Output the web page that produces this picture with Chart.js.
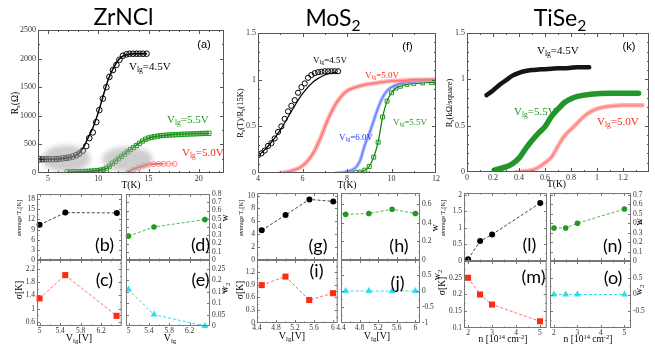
<!DOCTYPE html>
<html><head><meta charset="utf-8">
<script src="https://cdn.jsdelivr.net/npm/chart.js@4.4.1/dist/chart.umd.min.js"></script>
<style>
html,body{margin:0;padding:0;background:#fff;}
body{position:relative;width:655px;height:353px;overflow:hidden;}
canvas{position:absolute;}
.l{position:absolute;line-height:1;white-space:nowrap;}
.s{font-size:0.68em;vertical-align:-0.32em;line-height:0;}
.u{font-size:0.68em;vertical-align:0.45em;line-height:0;}
</style></head><body>
<script>
// ================= DATA =================
// (a) ZrNCl  Rs(T) [Ohm]
const aT45=[4.15,4.45,4.8,5.1,5.45,5.8,6.1,6.45,6.8,7.1,7.45,7.8,8.1,8.45,8.8,9.1,9.45,9.8,10.1,10.45,10.8,11.1,11.45,11.8,12.1,12.45,12.8,13.1,13.45,13.8,14.1,14.45,14.8];
const aR45=[240,240,240,240,240,242,248,255,262,272,288,310,340,390,470,610,710,890,1100,1300,1500,1680,1800,1890,1980,2050,2075,2085,2085,2085,2085,2085,2085];
const aTf45=[4.0,5,6,7,7.5,8,8.5,9,9.5,10,10.5,11,11.5,12,12.5,13,13.5,14,14.8];
const aRf45=[240,240,245,265,290,330,440,620,810,1060,1360,1640,1832,1975,2050,2075,2085,2085,2085];
const aT55=[6.9,7.2,7.5,7.8,8.1,8.4,8.7,9.0,9.3,9.6,9.9,10.2,10.5,10.8,11.1,11.4,11.7,12.0,12.3,12.6,12.9,13.2,13.5,13.8,14.1,14.4,14.7,15.0,15.3,15.6,15.9,16.2,16.5,16.8,17.1,17.4,17.7,18.0,18.3,18.6,18.9,19.2,19.5,19.8,20.1,20.4,20.7,21.0];
const aR55=[20,20,22,22,24,25,27,30,33,37,42,50,62,85,120,170,205,250,290,330,370,410,445,480,520,560,590,612,625,635,645,652,657,661,664,667,670,673,676,678,680,683,685,687,689,691,693,694];
const aTf55=[7,8,9,10,10.5,11,11.5,12,12.5,13,13.5,14,14.5,15,15.5,16,17,18,19,20,21];
const aRf55=[18,22,28,45,60,100,180,250,320,390,450,515,570,610,632,648,664,676,684,690,694];
const aT50=[13.0,13.5,14.0,14.5,15.0,15.5,16.0,16.5,17.0,17.6];
const aR50=[15,60,95,130,148,155,158,160,160,160];
const aTf50=[12.7,13.0,13.3,13.6,14.0,14.4,14.8,15.2,15.6,16.0,16.4];
const aRf50=[0,20,50,75,95,120,140,152,158,160,160];
const blobT=[6.8,12.9], blobR=[250,240], blobHT=[2.4,2.5], blobHR=[235,220];

// (f) MoS2  Rs(T)/Rs(15K)
const fT45=[4.0,4.15,4.3,4.45,4.6,4.75,4.9,5.05,5.2,5.35,5.5,5.65,5.8,5.95,6.1,6.25,6.4,6.55,6.7,6.85,7.0,7.15,7.3,7.45,7.6];
const fR45=[0.19,0.21,0.24,0.29,0.32,0.37,0.44,0.50,0.58,0.66,0.72,0.78,0.86,0.92,0.96,1.02,1.05,1.07,1.08,1.085,1.09,1.09,1.09,1.09,1.09];
const fTf45=[4.0,4.5,5.0,5.5,6.0,6.5,7.0,7.5];
const fRf45=[0.18,0.30,0.46,0.66,0.85,0.98,1.05,1.08];
const fT50=[5.0,5.3,5.6,5.9,6.2,6.5,6.8,7.1,7.4,7.7,8.0,8.4,8.8,9.2,9.6,10.0,10.5,11.0,11.5,12.0];
const fR50=[0.0,0.01,0.03,0.06,0.12,0.22,0.37,0.55,0.70,0.81,0.88,0.92,0.945,0.96,0.975,0.985,0.99,1.0,1.0,1.0];
const fT60=[7.5,7.8,8.1,8.4,8.6,8.8,9.0,9.2,9.4,9.6,9.8,10.0,10.3,10.6,11.0,11.5,12.0];
const fR60=[0.0,0.005,0.02,0.06,0.14,0.30,0.42,0.56,0.70,0.81,0.88,0.92,0.95,0.97,0.98,0.99,1.0];
const fT55=[8.0,8.2,8.4,8.6,8.8,9.0,9.2,9.4,9.6,9.8,10.0,10.2,10.4,10.7,11.0,11.4,11.8,12.0];
const fR55=[0.0,0.0,0.005,0.01,0.03,0.07,0.17,0.33,0.60,0.77,0.86,0.91,0.93,0.95,0.96,0.965,0.97,0.97];

// (k) TiSe2  Rs [kOhm/square]
const kT45=[0.15,0.2,0.25,0.3,0.35,0.4,0.45,0.5,0.55,0.6,0.65,0.7,0.75,0.8,0.85,0.9,0.94];
const kR45=[0.83,0.88,0.94,0.99,1.04,1.07,1.09,1.10,1.105,1.11,1.115,1.12,1.12,1.125,1.13,1.13,1.13];
const kT55=[0.21,0.25,0.3,0.35,0.4,0.45,0.5,0.55,0.6,0.65,0.7,0.75,0.8,0.85,0.9,0.95,1.0,1.1,1.2,1.32];
const kR55=[0.02,0.035,0.055,0.09,0.15,0.25,0.34,0.42,0.49,0.60,0.68,0.75,0.79,0.815,0.83,0.84,0.845,0.85,0.85,0.85];
const kT50=[0.38,0.45,0.5,0.55,0.6,0.65,0.7,0.75,0.8,0.85,0.9,0.95,1.0,1.05,1.1,1.2,1.3,1.35];
const kR50=[0.0,0.01,0.02,0.05,0.10,0.16,0.28,0.39,0.46,0.53,0.60,0.65,0.68,0.70,0.71,0.72,0.72,0.72];

// small panels
const vlgZ=[5,5.5,6.5], tcZ=[10.4,14.0,13.9], wZ=[0.29,0.40,0.49], sigZ=[1.31,2.02,0.78], w2Z=[0.16,0.05,0.0];
const vlgM=[4.5,5,5.5,6], tcM=[4.6,7.0,9.4,9.1], wM=[0.49,0.5,0.545,0.5], sigM=[0.89,1.09,0.54,0.70], w2M=[0,0,0,0];
const nT=[2,2.5,3,5], tcT=[0.05,0.6,0.8,1.75], wT=[0.35,0.35,0.40,0.55], sigT=[0.25,0.20,0.17,0.12], w2T=[0,0,0,0];

// tick values
const aXt=[5,10,15,20], aYt=[0,500,1000,1500,2000,2500];
const fXt=[4,6,8,10,12], fYt=[0,0.5,1,1.5];
const kXt=[0,0.2,0.4,0.6,0.8,1,1.2], kYt=[0,0.5,1,1.5];
const zXt=[5,5.4,5.8,6.2], bYt=[0,3,6,9,12,15,18], cYt=[0.6,1,1.4,1.8,2.2], dYt=[0,0.1,0.2,0.3,0.4,0.5,0.6,0.7,0.8], eYt=[0,0.05,0.1,0.15,0.2,0.25];
const mXt=[4.4,4.8,5.2,5.6,6], gYt=[0,2,4,6,8,10], iYt=[0,0.3,0.6,0.9,1.2], hYt=[0,0.2,0.4,0.6], jYt=[-1,-0.5,0,0.5];
const tXt=[2,3,4,5], lYt=[0,0.5,1,1.5,2], mYt=[0.1,0.15,0.2,0.25], nYt=[0,0.1,0.2,0.3,0.4,0.5,0.6,0.7], oYt=[-0.5,0,0.5];

// ================= HELPERS =================
const SERIF='"Liberation Serif","Times New Roman",serif';
const SANS='Lato,"Open Sans",sans-serif';
const ARIAL='"Liberation Sans",Arial,sans-serif';
const fmt=v=>String(+(+v).toFixed(3));
const P=(xs,ys)=>xs.map((v,i)=>({x:v,y:ys[i]}));

const frame={id:'frame',afterDraw(ch,a,o){
  if(!o||!o.xt) return;
  const {ctx,chartArea:A,scales:{x,y}}=ch;
  ctx.save(); ctx.strokeStyle=o.color||'#555'; ctx.lineWidth=1;
  ctx.strokeRect(A.left+0.5,A.top+0.5,A.right-A.left-1,A.bottom-A.top-1);
  const L=o.len||4;
  const gen=(arr,n,mn,mx)=>{const maj=arr.slice(),mi=[];
    if(arr.length>1&&n>0){const sub=(arr[1]-arr[0])/(n+1);
      for(let v=arr[0]-sub*Math.floor((arr[0]-mn)/sub+1e-9);v<=mx+1e-9;v+=sub){
        if(!arr.some(m=>Math.abs(m-v)<sub*0.01)) mi.push(v);}}
    return {maj,mi};};
  ctx.beginPath();
  const gx=gen(o.xt,o.xm,x.min,x.max), gy=gen(o.yt,o.ym,y.min,y.max);
  const dx=(v,len)=>{const p=Math.round(x.getPixelForValue(v))+0.5; if(p<A.left||p>A.right)return;
    ctx.moveTo(p,A.bottom);ctx.lineTo(p,A.bottom-len);ctx.moveTo(p,A.top);ctx.lineTo(p,A.top+len);};
  const dy=(v,len)=>{const p=Math.round(y.getPixelForValue(v))+0.5; if(p<A.top||p>A.bottom)return;
    ctx.moveTo(A.left,p);ctx.lineTo(A.left+len,p);ctx.moveTo(A.right,p);ctx.lineTo(A.right-len,p);};
  gx.maj.forEach(v=>dx(v,L)); gx.mi.forEach(v=>dx(v,L/2));
  gy.maj.forEach(v=>dy(v,L)); gy.mi.forEach(v=>dy(v,L/2));
  ctx.stroke(); ctx.restore();
}};
const blobs={id:'blobs',afterDatasetsDraw(ch,a,o){
  if(!o||!o.cx) return;
  const {ctx,scales:{x,y}}=ch; ctx.save(); ctx.filter='blur(2.5px)'; ctx.fillStyle='rgba(165,165,165,0.55)';
  o.cx.forEach((cx,i)=>{const px=x.getPixelForValue(cx),py=y.getPixelForValue(o.cy[i]);
    const rx=x.getPixelForValue(cx+o.hx[i])-px, ry=py-y.getPixelForValue(o.cy[i]+o.hy[i]);
    ctx.beginPath(); ctx.ellipse(px,py,rx,ry,0,0,Math.PI*2); ctx.fill();});
  ctx.restore();
}};
Chart.register(frame,blobs);

function panel(o){
  const [x0,y0,x1,y1]=o.box, m=o.m;
  const W=x1-x0+m.l+m.r, H=y1-y0+m.t+m.b;
  const c=document.createElement('canvas');
  c.width=W; c.height=H;
  c.style.left=(x0-m.l)+'px'; c.style.top=(y0-m.t)+'px';
  c.style.width=W+'px'; c.style.height=H+'px';
  document.body.appendChild(c);
  const right=o.yPos==='right';
  const tf={family:SERIF,size:o.fs||8};
  const plugins={legend:{display:false},tooltip:{enabled:false},frame:{xt:o.xt,yt:o.yt,xm:o.xm??1,ym:o.ym??1,color:o.fc||'#555',len:o.tl||4}};
  if(o.blobs) plugins.blobs=o.blobs;
  new Chart(c,{type:'line',data:{datasets:o.ds},options:{
    responsive:false,animation:false,devicePixelRatio:1,
    layout:{padding:{left:right?m.l:0,right:right?0:m.r,top:m.t,bottom:0}},
    plugins,
    scales:{
      x:{type:'linear',min:o.xr[0],max:o.xr[1],grid:{display:false,drawTicks:false},border:{display:false},
        ticks:{display:!!o.xl,font:tf,color:'#333',padding:1,maxRotation:0,autoSkip:false,callback:v=>fmt(v)},
        afterBuildTicks:s=>{s.ticks=o.xt.map(v=>({value:v}));},
        afterFit:s=>{s.height=m.b;}},
      y:{type:'linear',position:right?'right':'left',min:o.yr[0],max:o.yr[1],grid:{display:false,drawTicks:false},border:{display:false},
        ticks:{font:tf,color:'#333',padding:2,autoSkip:false,callback:v=>fmt(v)},
        afterBuildTicks:s=>{s.ticks=o.yt.map(v=>({value:v}));},
        afterFit:s=>{s.width=right?m.r:m.l;}}
    }}});
}
const open=(xs,ys,col,style,r,extra)=>Object.assign({data:P(xs,ys),showLine:false,pointStyle:style,pointRadius:r,pointBorderWidth:1,pointBorderColor:col,pointBackgroundColor:'rgba(0,0,0,0)',borderColor:col},extra||{});
const ln=(xs,ys,col,w,extra)=>Object.assign({data:P(xs,ys),pointRadius:0,borderColor:col,borderWidth:w,cubicInterpolationMode:'monotone',borderCapStyle:'round'},extra||{});
const dl=(xs,ys,lc,pc,style,r)=>({data:P(xs,ys),borderColor:lc,borderWidth:1,borderDash:[3,2],pointStyle:style,pointRadius:r,pointBackgroundColor:pc,pointBorderColor:pc,pointBorderWidth:0,clip:false});

const BLK='#000', GRN='#1f9a1f', GRNd='#0b7d0b', RED='#ff2a10', PINK='rgba(255,150,150,0.7)', BLU='#2233ff', LBLU='rgba(140,160,255,0.75)', CYA='#30dcea';

// ================= TOP PANELS =================
panel({box:[38,30,224,173],m:{l:36,t:8,r:8,b:12},xr:[4,22.5],yr:[0,2500],xt:aXt,yt:aYt,xl:true,xm:4,ym:1,
  blobs:{cx:blobT,cy:blobR,hx:blobHT,hy:blobHR},
  ds:[open(aT45,aR45,BLK,'circle',2.8),ln(aTf45,aRf45,BLK,1.5),
      open(aT55,aR55,GRN,'rect',3),ln(aTf55,aRf55,GRNd,1.5),
      open(aT50,aR50,'#ff8080','circle',2.5,{showLine:true,borderWidth:0.8}),ln(aTf50,aRf50,RED,1.5)]});
panel({box:[258,33,436,173],m:{l:22,t:8,r:8,b:12},xr:[4,12],yr:[0,1.5],xt:fXt,yt:fYt,xl:true,xm:1,ym:4,
  ds:[open(fT45,fR45,BLK,'circle',2.6),ln(fTf45,fRf45,BLK,1.2),
      ln(fT50,fR50,PINK,4.5),ln(fT50,fR50,RED,1.6),
      ln(fT60,fR60,LBLU,3.5),ln(fT60,fR60,BLU,1.4),
      open(fT55,fR55,GRN,'rect',2.8),ln(fT55,fR55,GRNd,1.2)]});
panel({box:[467,33,649,172],m:{l:18,t:8,r:6,b:12},xr:[0,1.4],yr:[0,1.5],xt:kXt,yt:kYt,xl:true,xm:1,ym:4,
  ds:[ln(kT45,kR45,'#151515',4.5),ln(kT55,kR55,'#23962a',5.5),ln(kT50,kR50,'rgba(255,160,160,0.8)',4.5),ln(kT50,kR50,RED,1.7)]});

// ================= SMALL PANELS =================
const S={fs:7.5,tl:3,fc:'#777'};
panel(Object.assign({box:[37,194,123,260],m:{l:20,t:8,r:3,b:8},xr:[4.95,6.6],yr:[0,19.5],xt:zXt,yt:bYt,ds:[dl(vlgZ,tcZ,'#444',BLK,'circle',3)]},S));
panel(Object.assign({box:[37,260,123,326],m:{l:20,t:8,r:3,b:12},xr:[4.95,6.6],yr:[0.47,2.48],xt:zXt,yt:cYt,xl:true,ds:[dl(vlgZ,sigZ,'#ff6b6b',RED,'rect',4.3)]},S));
panel(Object.assign({box:[126,194,210,260],m:{l:8,t:8,r:18,b:8},yPos:'right',xr:[4.95,6.6],yr:[0,0.8],xt:zXt,yt:dYt,ym:0,ds:[dl(vlgZ,wZ,'#55b055',GRN,'circle',2.8)]},S));
panel(Object.assign({box:[126,260,210,326],m:{l:8,t:8,r:18,b:12},yPos:'right',xr:[4.95,6.6],yr:[0,0.29],xt:zXt,yt:eYt,ym:0,xl:true,ds:[dl(vlgZ,w2Z,CYA,CYA,'triangle',4)]},S));

panel(Object.assign({box:[257,193,339,260],m:{l:18,t:8,r:3,b:8},xr:[4.4,6.1],yr:[0,10.4],xt:mXt,yt:gYt,ds:[dl(vlgM,tcM,'#444',BLK,'circle',3)]},S));
panel(Object.assign({box:[257,260,339,323],m:{l:18,t:8,r:3,b:12},xr:[4.4,6.1],yr:[0,1.48],xt:mXt,yt:iYt,xl:true,ds:[dl(vlgM,sigM,'#ff6b6b',RED,'rect',4.3)]},S));
panel(Object.assign({box:[341,193,420,260],m:{l:8,t:8,r:16,b:8},yPos:'right',xr:[4.4,6.1],yr:[0,0.72],xt:mXt,yt:hYt,ds:[dl(vlgM,wM,'#55b055',GRN,'circle',2.8)]},S));
panel(Object.assign({box:[341,260,420,323],m:{l:8,t:8,r:16,b:12},yPos:'right',xr:[4.4,6.1],yr:[-1,0.97],xt:mXt,yt:jYt,xl:true,ds:[dl(vlgM,w2M,CYA,CYA,'triangle',4)]},S));

panel(Object.assign({box:[464,193,548,261],m:{l:18,t:8,r:3,b:8},xr:[1.83,5.28],yr:[0,2.05],xt:tXt,yt:lYt,ds:[dl(nT,tcT,'#444',BLK,'circle',3)]},S));
panel(Object.assign({box:[464,261,548,328],m:{l:20,t:8,r:3,b:12},xr:[1.83,5.28],yr:[0.1,0.3],xt:tXt,yt:mYt,xl:true,ds:[dl(nT,sigT,'#ff6b6b',RED,'rect',4.3)]},S));
panel(Object.assign({box:[550,193,631,261],m:{l:8,t:8,r:22,b:8},yPos:'right',xr:[1.83,5.28],yr:[0,0.72],xt:tXt,yt:nYt,ym:0,ds:[dl(nT,wT,'#55b055',GRN,'circle',2.8)]},S));
panel(Object.assign({box:[550,261,631,328],m:{l:8,t:8,r:22,b:12},yPos:'right',xr:[1.83,5.28],yr:[-1,1],xt:tXt,yt:oYt,xl:true,ds:[dl(nT,w2T,CYA,CYA,'triangle',4)]},S));

// ================= TEXT =================
function T(html,x,y,o){o=o||{};const d=document.createElement('div');d.className='l';d.innerHTML=html;
  d.style.left=x+'px';d.style.top=y+'px';d.style.fontSize=(o.fs||10)+'px';d.style.fontFamily=o.ff||SERIF;d.style.color=o.c||'#000';
  d.style.transform='translate('+(o.ax??-50)+'%,-50%)'+(o.rot?' rotate('+o.rot+'deg)':'');
  if(o.rot) d.style.transformOrigin='50% 50%';
  document.body.appendChild(d);}
const sb=s=>'<span class="s">'+s+'</span>', sp=s=>'<span class="u">'+s+'</span>';
const VL='V'+sb('lg');

// titles
T('ZrNCl',123.5,16,{fs:23,ff:SANS});
T('MoS'+sb('2'),333,16.5,{fs:23,ff:SANS});
T('TiSe'+sb('2'),560,16.5,{fs:23,ff:SANS});
// top axis titles
T('R'+sb('s')+'(Ω)',16,103,{fs:9.5,rot:-90});
T('T(K)',131,186,{fs:9.5});
T('R'+sb('s')+'(T)/R'+sb('s')+'(15K)',240,113,{fs:8.5,rot:-90});
T('T(K)',347,185.5,{fs:9.5});
T('R'+sb('s')+'(kΩ/square)',449,103,{fs:8.5,rot:-90});
T('T(K)',556.5,185,{fs:9.5});
// panel letters (top)
T('(a)',204,44,{fs:11,ff:ARIAL});
T('(f)',407.5,46,{fs:11,ff:ARIAL});
T('(k)',629,46,{fs:11,ff:ARIAL});
// series labels
T(VL+'=4.5V',129,66,{fs:11,ax:0});
T(VL+'=5.5V',167,119,{fs:11,ax:0,c:GRN});
T(VL+'=5.0V',182,152,{fs:11,ax:0,c:RED});
T(VL+'=4.5V',313,60,{fs:9,ax:0});
T(VL+'=5.0V',365,74.5,{fs:9,ax:0,c:RED});
T(VL+'=6.0V',339,137,{fs:9,ax:0,c:BLU});
T(VL+'=5.5V',393,121.5,{fs:9,ax:0,c:GRN});
T(VL+'=4.5V',537,50,{fs:11,ax:0});
T(VL+'=5.5V',514,111,{fs:11,ax:0,c:GRN});
T(VL+'=5.0V',597,121,{fs:11,ax:0,c:RED});
// small panel axis titles
const AVG='average T'+sb('c')+'[K]';
T(AVG,19,218,{fs:6.5,rot:-90}); T('σ[K]',20,290,{fs:9.5,rot:-90});
T(AVG,240.7,218,{fs:6.5,rot:-90}); T('σ[K]',240.5,290,{fs:9.5,rot:-90});
T(AVG,443.3,218,{fs:6.5,rot:-90}); T('σ[K]',443,286,{fs:9.5,rot:-90});
T('w',225,218,{fs:10,rot:-90}); T('w'+sb('2'),225,288,{fs:10,rot:-90});
T('w',435,228,{fs:10,rot:-90}); T('w'+sb('2'),437,275,{fs:10,rot:-90});
T('w',639,222,{fs:10,rot:-90}); T('w'+sb('2'),639,290,{fs:10,rot:-90});
T(VL+'[V]',79,338,{fs:10}); T(VL,170,338,{fs:10});
T(VL+'[V]',292,336,{fs:10}); T(VL+'[V]',377,336,{fs:10});
const NL='n [10'+sp('14')+' cm'+sp('-2')+']';
T(NL,503,340,{fs:9.5}); T(NL,588,340,{fs:9.5});
// small panel letters
const LF={fs:18,ff:SANS};
T('(b)',104.5,244,LF); T('(c)',104.5,279,LF); T('(d)',200.5,244,LF); T('(e)',200.5,279,LF);
T('(g)',318,244.5,LF); T('(i)',316.5,270,LF); T('(h)',399,245,LF); T('(j)',397.5,281.5,LF);
T('(l)',529.5,244,LF); T('(m)',533.5,276,LF); T('(n)',612.5,245,LF); T('(o)',613,276.5,LF);
</script>
</body></html>
